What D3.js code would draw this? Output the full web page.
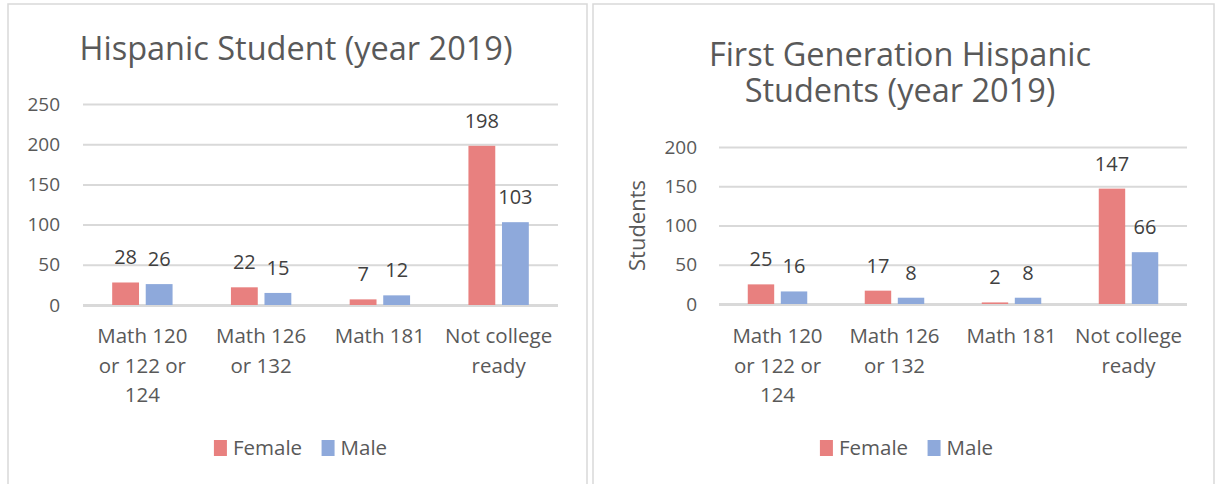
<!DOCTYPE html>
<html>
<head>
<meta charset="utf-8">
<script src="https://cdn.jsdelivr.net/npm/d3@7"></script>
<style>
  html, body { margin: 0; padding: 0; background: #fff; }
  svg text { font-family: "Open Sans", sans-serif; }
</style>
</head>
<body>
<div id="chart"></div>
<script>
// categories and wrapped tick labels (as Excel wraps them)
var categories = ["Math 120 or 122 or 124", "Math 126 or 132", "Math 181", "Not college ready"];
var categoryLines = [["Math 120", "or 122 or", "124"], ["Math 126", "or 132"], ["Math 181"], ["Not college", "ready"]];
var seriesNames = ["Female", "Male"];
var seriesColors = ["#E8807F", "#8EA9DB"];

// left chart
var hispanicTitle = ["Hispanic Student (year 2019)"];
var hispanicFemale = [28, 22, 7, 198];
var hispanicMale = [26, 15, 12, 103];
var hispanicTicks = [0, 50, 100, 150, 200, 250];

// right chart
var firstGenTitle = ["First Generation Hispanic", "Students (year 2019)"];
var firstGenFemale = [25, 17, 2, 147];
var firstGenMale = [16, 8, 8, 66];
var firstGenTicks = [0, 50, 100, 150, 200];

var svg = d3.select("#chart")
  .append("svg")
  .attr("width", 1217)
  .attr("height", 484);

function drawPanel(cfg) {
  var g = svg.append("g");

  // panel frame
  g.append("rect")
    .attr("x", cfg.panel[0])
    .attr("y", 4)
    .attr("width", cfg.panel[1] - cfg.panel[0])
    .attr("height", 500)
    .attr("fill", "#fff")
    .attr("stroke", "#D9D9D9")
    .attr("stroke-width", 1.5);

  var x = d3.scaleBand()
    .domain(categories)
    .range(cfg.xRange);

  var x1 = d3.scaleBand()
    .domain(seriesNames)
    .range([0, x.bandwidth()])
    .paddingInner(0.2)
    .paddingOuter(0.87);

  var y = d3.scaleLinear()
    .domain([0, d3.max(cfg.ticks)])
    .range(cfg.yRange);

  var plotW = cfg.xRange[1] - cfg.xRange[0];

  // gridlines + tick labels
  var yAxis = d3.axisLeft(y)
    .tickValues(cfg.ticks)
    .tickSize(-plotW)
    .tickPadding(cfg.tickPad);

  var ax = g.append("g")
    .attr("transform", "translate(" + cfg.xRange[0] + ",0)")
    .call(yAxis);
  ax.select(".domain").remove();
  ax.selectAll(".tick line")
    .attr("stroke", "#D9D9D9")
    .attr("stroke-width", function(d) { return d === 0 ? 3 : 2; });
  ax.selectAll(".tick text")
    .attr("fill", "#595959")
    .style("font-size", "19px")
    .style("font-family", "'Open Sans', sans-serif");

  // bars
  var rows = categories.map(function(c, i) {
    return {cat: c, vals: [cfg.female[i], cfg.male[i]]};
  });

  var groups = g.selectAll("g.cat")
    .data(rows)
    .enter().append("g")
    .attr("class", "cat")
    .attr("transform", function(d) { return "translate(" + x(d.cat) + ",0)"; });

  groups.selectAll("rect")
    .data(function(d) { return d.vals.map(function(v, k) { return {s: seriesNames[k], v: v, k: k}; }); })
    .enter().append("rect")
    .attr("x", function(d) { return x1(d.s); })
    .attr("y", function(d) { return y(d.v); })
    .attr("width", x1.bandwidth())
    .attr("height", function(d) { return y(0) - y(d.v); })
    .attr("fill", function(d) { return seriesColors[d.k]; });

  groups.selectAll("text.val")
    .data(function(d) { return d.vals.map(function(v, k) { return {s: seriesNames[k], v: v}; }); })
    .enter().append("text")
    .attr("class", "val")
    .attr("x", function(d) { return x1(d.s) + x1.bandwidth() / 2; })
    .attr("y", function(d) { return y(d.v) - 18; })
    .attr("text-anchor", "middle")
    .attr("fill", "#404040")
    .style("font-size", "20px")
    .text(function(d) { return d.v; });

  // category labels
  var lab = g.selectAll("text.cat")
    .data(categories)
    .enter().append("text")
    .attr("class", "cat")
    .attr("text-anchor", "middle")
    .attr("fill", "#595959")
    .style("font-size", "20.5px");
  lab.each(function(c, i) {
    var t = d3.select(this);
    categoryLines[i].forEach(function(line, j) {
      t.append("tspan")
        .attr("x", x(c) + x.bandwidth() / 2)
        .attr("y", 343 + j * 29.5)
        .text(line);
    });
  });

  // title (one text, a tspan per line)
  var cx = (cfg.panel[0] + cfg.panel[1]) / 2;
  var title = g.append("text")
    .attr("text-anchor", "middle")
    .attr("fill", "#595959")
    .style("font-size", "32.5px");
  cfg.title.forEach(function(line, j) {
    title.append("tspan")
      .attr("x", cfg.titleX)
      .attr("y", cfg.titleY + j * 35.5)
      .text(line);
  });

  // axis title
  if (cfg.yLabel) {
    g.append("text")
      .attr("transform", "translate(645," + ((cfg.yRange[0] + cfg.yRange[1]) / 2) + ") rotate(-90)")
      .attr("text-anchor", "middle")
      .attr("fill", "#595959")
      .style("font-size", "22px")
      .text(cfg.yLabel);
  }

  // legend, centred under the panel
  var leg = g.append("g");
  var xpos = 0;
  seriesNames.forEach(function(name, k) {
    leg.append("rect")
      .attr("x", xpos)
      .attr("y", 440)
      .attr("width", 13)
      .attr("height", 16)
      .attr("fill", seriesColors[k]);
    var t = leg.append("text")
      .attr("x", xpos + 19)
      .attr("y", 455)
      .attr("fill", "#595959")
      .style("font-size", "20.5px")
      .text(name);
    xpos += 19 + t.node().getComputedTextLength() + 19.5;
  });
  var lw = xpos - 19.5;
  leg.attr("transform", "translate(" + (cx + 3 - lw / 2) + ",0)");
}

drawPanel({
  panel: [8, 587],
  xRange: [83, 558],
  yRange: [305, 104],
  ticks: hispanicTicks,
  tickPad: 23,
  female: hispanicFemale,
  male: hispanicMale,
  title: hispanicTitle,
  titleX: 296,
  titleY: 60
});

drawPanel({
  panel: [593, 1214],
  xRange: [719, 1187],
  yRange: [304, 147],
  ticks: firstGenTicks,
  tickPad: 22,
  female: firstGenFemale,
  male: firstGenMale,
  title: firstGenTitle,
  titleX: 900,
  titleY: 66,
  yLabel: "Students"
});
</script>
</body>
</html>
